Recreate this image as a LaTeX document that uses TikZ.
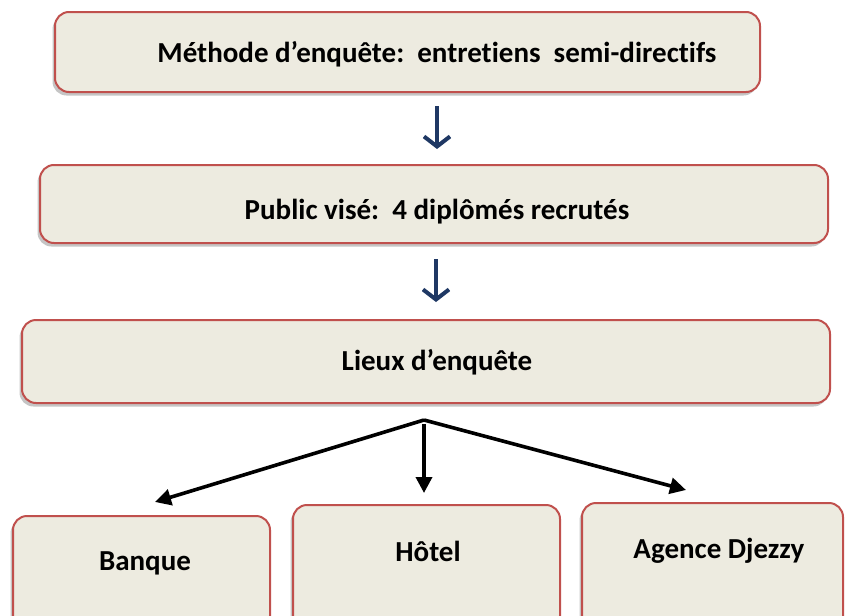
\documentclass[tikz,border=0pt]{standalone}
\usepackage{fontspec}
\setmainfont{Carlito}[Ligatures=NoCommon]
\usetikzlibrary{arrows.meta,shadows}
\definecolor{boxfill}{HTML}{EDEBE0}
\definecolor{boxline}{HTML}{C0504D}
\definecolor{arrblue}{HTML}{1F3864}
\tikzset{
  box/.style={draw=boxline, line width=2pt, fill=boxfill, rounded corners=14pt,
    drop shadow={shadow xshift=-2.5pt, shadow yshift=-3.5pt, fill=black!45, opacity=0.5}},
  lbl/.style={font=\bfseries\fontsize{29}{34}\selectfont},
  bluearrow/.style={draw=arrblue, line width=4.5pt, -{Straight Barb[length=10pt,width=26pt,line width=4pt]}},
  blackarrow/.style={draw=black, line width=3.6pt, -{Triangle[length=16pt,width=16pt]}},
}
\begin{document}
\begin{tikzpicture}[x=1pt,y=-1pt]
\useasboundingbox (0,0) rectangle (847,616);
\begin{scope}
\clip (0,0) rectangle (847,616);
\path[box] (55,12) rectangle (760,92);
\node[lbl] (t1) at (437,54) {Méthode d’enquête:\ \ entretiens\ \ semi-directifs};
\path[box] (40,165) rectangle (828,243);
\node[lbl] (t2) at (437,212) {Public visé:\ \ 4 diplômés recrutés};
\path[box] (22,320) rectangle (830,403);
\node[lbl] (t3) at (437,362) {Lieux d’enquête};
\path[box] (13,516) rectangle (270,630);
\node[lbl] (b1) at (145,563) {Banque};
\path[box] (293,505) rectangle (560,630);
\node[lbl] (b2) at (428,551) {Hôtel};
\path[box] (582,503) rectangle (843,630);
\node[lbl] (b3) at (719,551) {Agence Djezzy};
\end{scope}
\coordinate (a1s) at (437,106);
\coordinate (a1e) at (437,149);
\coordinate (a2s) at (436,259);
\coordinate (a2e) at (436,302);
\draw[bluearrow] (a1s) -- (a1e);
\draw[bluearrow] (a2s) -- (a2e);
\coordinate (apex) at (424,420);
\coordinate (tipL) at (155,502);
\coordinate (tipM) at (424,493);
\coordinate (tipR) at (686,490);
\coordinate (midS) at (424,424);
\draw[blackarrow] (apex) -- (tipL);
\draw[blackarrow] (apex) -- (tipR);
\draw[blackarrow] (midS) -- (tipM);
\end{tikzpicture}
\end{document}
